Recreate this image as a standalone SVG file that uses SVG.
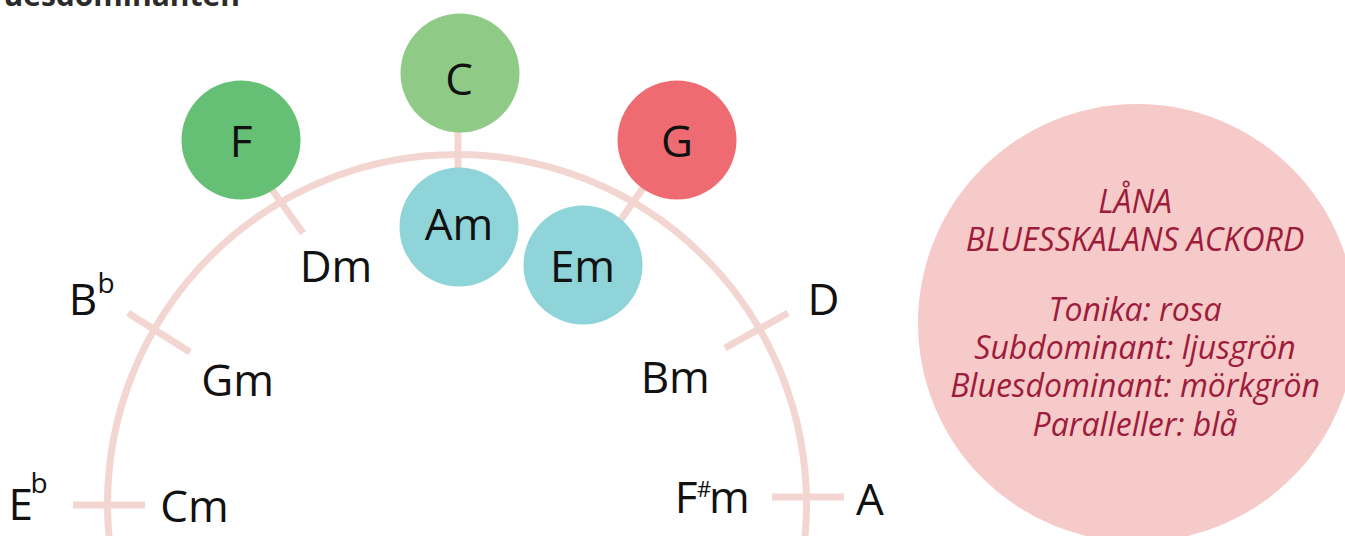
<svg xmlns="http://www.w3.org/2000/svg" width="1345" height="536" viewBox="0 0 1345 536">
<style>
.lbl{font-family:"Open Sans","Noto Sans","Liberation Sans",sans-serif;font-size:44px;fill:#111}
.sup{font-size:28px}
.ctr{text-anchor:middle}
.tick{stroke:#f3d6d1;stroke-width:7;fill:none}
.info{font-family:"Open Sans","Noto Sans","Liberation Sans",sans-serif;font-style:italic;font-size:32px;fill:#9d1c3b;text-anchor:middle}
</style>
<rect width="1345" height="536" fill="#ffffff"/>
<text x="240" y="6" text-anchor="end" font-family="'Open Sans','Noto Sans',sans-serif" font-weight="bold" font-size="30" fill="#2b2b2b">uesdominanten</text>
<g id="connectors">
<circle class="tick" cx="457" cy="504" r="349.5"/>
<line class="tick" x1="73" y1="505" x2="145" y2="505"/>
<line class="tick" x1="128" y1="313" x2="190" y2="352"/>
<line class="tick" x1="265" y1="180" x2="303" y2="233"/>
<line class="tick" x1="458" y1="120" x2="458" y2="180"/>
<line class="tick" x1="650" y1="178" x2="615" y2="228"/>
<line class="tick" x1="725" y1="348" x2="788" y2="313"/>
<line class="tick" x1="772" y1="497" x2="844" y2="497"/>
</g>
<g id="node-F"><circle cx="241" cy="140" r="59.5" fill="#65bf74"/><text class="lbl ctr" x="241" y="157">F</text></g>
<g id="node-C"><circle cx="460" cy="73" r="59.5" fill="#8fcb87"/><text class="lbl ctr" x="459" y="95">C</text></g>
<g id="node-G"><circle cx="677" cy="140" r="59.5" fill="#ee6b71"/><text class="lbl ctr" x="677" y="157">G</text></g>
<g id="node-Am"><circle cx="459" cy="227" r="59.5" fill="#8fd4d8"/><text class="lbl ctr" x="459" y="240">Am</text></g>
<g id="node-Em"><circle cx="583" cy="265" r="59.5" fill="#8fd4d8"/><text class="lbl ctr" x="582.5" y="281.7">Em</text></g>
<g id="label-Eb"><text class="lbl" x="8.4" y="520">E<tspan class="sup" x="30.5" y="493">b</tspan></text></g>
<g id="label-Cm"><text class="lbl" x="160.3" y="522">Cm</text></g>
<g id="label-Bb"><text class="lbl" x="68.7" y="315">B<tspan class="sup" x="97.5" y="293">b</tspan></text></g>
<g id="label-Gm"><text class="lbl" x="201.3" y="396">Gm</text></g>
<g id="label-Dm"><text class="lbl" x="299.7" y="281.5">Dm</text></g>
<g id="label-D"><text class="lbl" x="807.4" y="315">D</text></g>
<g id="label-Bm"><text class="lbl" x="640.7" y="392.7">Bm</text></g>
<g id="label-Fsm"><text class="lbl" x="674.7" y="513.3">F<tspan font-size="22" x="697" y="497">#</tspan><tspan x="709" y="513.3">m</tspan></text></g>
<g id="label-A"><text class="lbl" x="856" y="515">A</text></g>
<g id="info">
<circle cx="1137" cy="323" r="219" fill="#f7caca"/>
<text class="info" x="1135" y="212.7">LÅNA</text>
<text class="info" x="1135" y="250.7">BLUESSKALANS ACKORD</text>
<text class="info" x="1135" y="320.7">Tonika: rosa</text>
<text class="info" x="1135" y="359.3">Subdominant: ljusgrön</text>
<text class="info" x="1135" y="396.7">Bluesdominant: mörkgrön</text>
<text class="info" x="1135" y="436">Paralleller: blå</text>
</g>
</svg>
